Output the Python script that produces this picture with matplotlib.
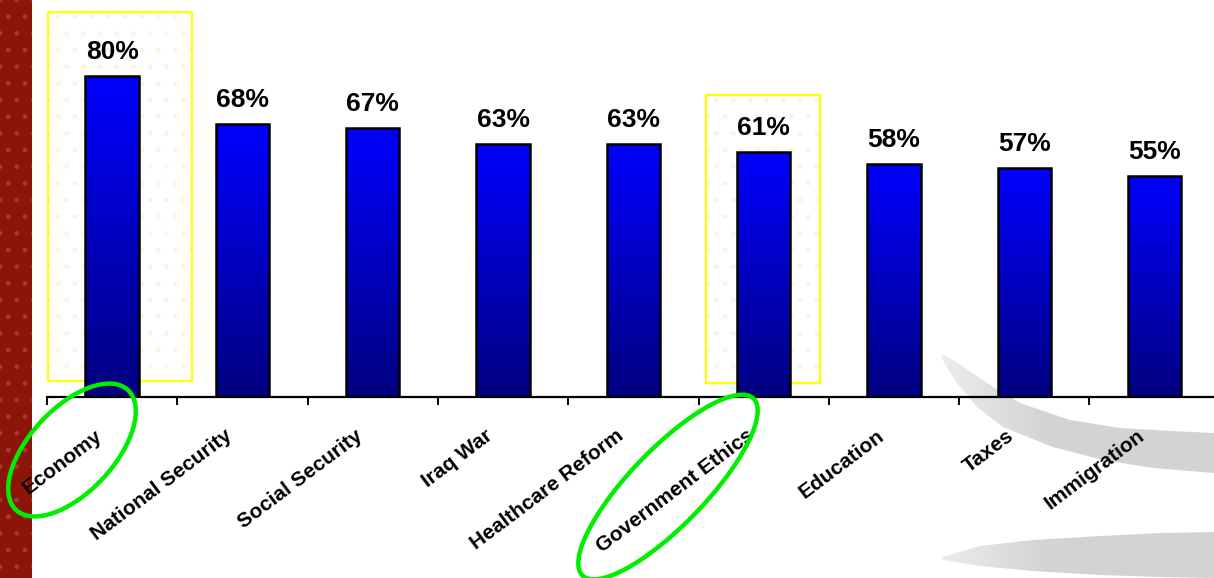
import numpy as np
import matplotlib
matplotlib.use("Agg")
import matplotlib.pyplot as plt
from matplotlib.patches import Rectangle, Ellipse, Polygon
from matplotlib.colors import LinearSegmentedColormap
from matplotlib.transforms import ScaledTranslation

categories = ["Economy", "National Security", "Social Security", "Iraq War",
              "Healthcare Reform", "Government Ethics", "Education", "Taxes",
              "Immigration"]
values = [80, 68, 67, 63, 63, 61, 58, 57, 55]
value_labels = ["80%", "68%", "67%", "63%", "63%", "61%", "58%", "57%", "55%"]
highlighted = ["Economy", "Government Ethics"]

plt.rcParams['font.family'] = ['Liberation Sans', 'DejaVu Sans']

W, H = 1214, 578
fig = plt.figure(figsize=(W / 100, H / 100), dpi=100)
fig.patch.set_facecolor('white')

# background decoration axes (pixel coords)
bg = fig.add_axes([0, 0, 1, 1], zorder=0)
bg.set_xlim(0, W)
bg.set_ylim(H, 0)
bg.axis('off')
bg.add_patch(Rectangle((0, 0), 32, H, facecolor='#8c1408', edgecolor='#a53a2e',
                       hatch='.', linewidth=0))

gray_cmap = LinearSegmentedColormap.from_list('g', ['#ededed', '#d3d3d3', '#d3d3d3'])
hgrad = np.concatenate([np.linspace(0, 0.5, 40), np.full(60, 1.0)]).reshape(1, -1)

upper = [(943, 355), (953, 360), (987, 383), (1020, 403), (1070, 420), (1120, 428),
         (1170, 431), (1214, 433)]
lower = [(1214, 473), (1153, 468), (1103, 460), (1053, 447), (1003, 427), (977, 407),
         (957, 383), (945, 364), (941, 357)]
sw1 = Polygon(upper + lower, closed=True, facecolor='none', edgecolor='none')
bg.add_patch(sw1)
im1 = bg.imshow(hgrad, extent=[938, 1214, 478, 350], aspect='auto', cmap=gray_cmap,
                vmin=0, vmax=1, interpolation='bilinear')
im1.set_clip_path(sw1)

upper2 = [(942, 557), (980, 546), (1033, 540), (1100, 536), (1160, 533), (1214, 532)]
lower2 = [(1214, 578), (1160, 577), (1100, 575), (1033, 571), (980, 566), (942, 560)]
sw2 = Polygon(upper2 + lower2, closed=True, facecolor='none', edgecolor='none')
bg.add_patch(sw2)
im2 = bg.imshow(hgrad, extent=[938, 1214, 578, 530], aspect='auto', cmap=gray_cmap,
                vmin=0, vmax=1, interpolation='bilinear')
im2.set_clip_path(sw2)
bg.set_xlim(0, W)
bg.set_ylim(H, 0)

# main axes
px_per_cat = 130.3
px_per_pct = 4.01
left_px, base_px = 47, 397
ax = fig.add_axes([left_px / W, (H - base_px) / H, 9 * px_per_cat / W, base_px / H], zorder=1)
ax.patch.set_alpha(0)
x = np.arange(len(categories))
ylim_top = base_px / px_per_pct

cmap = LinearSegmentedColormap.from_list('bar', ['#000080', '#0000ff'])
grad = np.linspace(0, 1, 256).reshape(-1, 1)
bars = ax.bar(x, values, width=0.41, facecolor='none', edgecolor='black',
              linewidth=1.8, zorder=3)
for b in bars:
    x0, w, h = b.get_x(), b.get_width(), b.get_height()
    im = ax.imshow(grad, extent=[x0, x0 + w, 0, h], origin='lower', aspect='auto',
                   cmap=cmap, zorder=2, interpolation='bilinear')
    im.set_clip_path(b)

for xi, v, lab in zip(x, values, value_labels):
    ax.annotate(lab, (xi, v), xytext=(0, 12.5), textcoords='offset points',
                ha='center', va='baseline', fontsize=19, fontweight='bold')

# highlight boxes (behind bars)
boxes = {"Economy": (-0.49, 0.61, 4.0, 96.0), "Government Ethics": (-0.44, 0.43, 3.5, 75.3)}
for name in highlighted:
    i = categories.index(name)
    l, r, b0, t = boxes[name]
    ax.add_patch(Rectangle((i + l, b0), r - l, t - b0, facecolor='none',
                           edgecolor='#f9f7d8', hatch='.', linewidth=0, zorder=1))
    ax.add_patch(Rectangle((i + l, b0), r - l, t - b0, fill=False,
                           edgecolor='#ffff00', linewidth=1.6, zorder=1.5))

ax.set_xlim(-0.5, len(categories) - 0.5)
ax.set_ylim(0, ylim_top)
for s in ['top', 'right', 'left']:
    ax.spines[s].set_visible(False)
ax.spines['bottom'].set_linewidth(1.6)
ax.set_yticks([])
ax.set_xticks(np.arange(-0.5, len(categories) + 0.5, 1))
ax.set_xticklabels([])
ax.tick_params(axis='x', direction='out', length=6, width=1.4, color='black')

off = ScaledTranslation(-18 / 100, -29 / 100, fig.dpi_scale_trans)
for xi, c in zip(x, categories):
    ax.text(xi, 0, c, transform=ax.transData + off, rotation=37, ha='right', va='top',
            rotation_mode='anchor', fontsize=15, fontweight='bold', clip_on=False)

# overlay (green ellipses)
ov = fig.add_axes([0, 0, 1, 1], zorder=3)
ov.set_xlim(0, W)
ov.set_ylim(H, 0)
ov.axis('off')
ov.patch.set_alpha(0)
ellipses = {"Economy": (72, 450, 164, 84, -47), "Government Ethics": (668, 487, 246, 76, -46)}
for name in highlighted:
    cx, cy, ew, eh, ang = ellipses[name]
    ov.add_patch(Ellipse((cx, cy), ew, eh, angle=ang, fill=False, edgecolor='#00ee00',
                         linewidth=3.2))

fig.savefig('out.png', dpi=100)
